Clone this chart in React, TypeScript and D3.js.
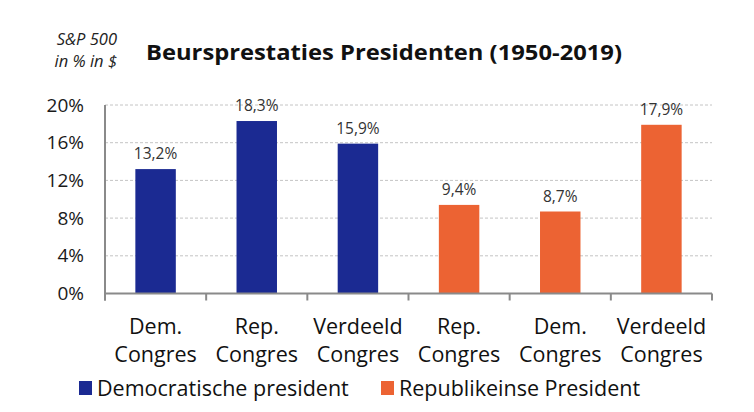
import React from "react";
import { scaleBand, scaleLinear } from "d3";

const categories = ["Dem.|Congres", "Rep.|Congres", "Verdeeld|Congres", "Rep.|Congres", "Dem.|Congres", "Verdeeld|Congres"];
const values = [13.2, 18.3, 15.9, 9.4, 8.7, 17.9];
const party = ["dem", "dem", "dem", "rep", "rep", "rep"];
const yTicks = [0, 4, 8, 12, 16, 20];
const legendItems = [
    { key: "dem", label: "Democratische president" },
    { key: "rep", label: "Republikeinse President" },
];

const colors: Record<string, string> = { dem: "#1b2a92", rep: "#ec6333" };
const font = "'Open Sans', Lato, sans-serif";

const W = 754;
const H = 412;
const margin = { left: 105, right: 42, top: 105, bottom: 119 };

export default function App() {
    const x = scaleBand<number>()
        .domain(categories.map((_, i) => i))
        .range([margin.left, W - margin.right])
        .paddingInner(0.6)
        .paddingOuter(0.3);

    const y = scaleLinear()
        .domain([0, 20])
        .range([H - margin.bottom + 0.5, margin.top]);

    const step = x.step();
    const bounds = categories.map((_, i) => margin.left + i * step).concat([W - margin.right]);
    const baseY = y(0);

    return (
        <svg
            width={W}
            height={H}
            style={{ position: "absolute", left: 0, top: 0, background: "#fff" }}
            fontFamily={font}
        >
            {/* Header */}
            <text x={117} y={45} fontSize={16.5} fontStyle="italic" textAnchor="end" fill="#222">S&amp;P 500</text>
            <text x={117} y={67} fontSize={16.5} fontStyle="italic" textAnchor="end" fill="#222">in % in $</text>
            <text x={146} y={60} fontSize={21.5} fontWeight="bold" fill="#111" textLength={476} lengthAdjust="spacingAndGlyphs">
                Beursprestaties Presidenten (1950-2019)
            </text>

            {/* Grid lines */}
            {yTicks.filter((t) => t > 0).map((t) => (
                <line
                    key={t}
                    x1={margin.left}
                    x2={W - margin.right}
                    y1={y(t)}
                    y2={y(t)}
                    stroke="#c4c4c4"
                    strokeDasharray="3,2"
                />
            ))}

            {/* Y axis labels */}
            {yTicks.map((t) => (
                <text key={t} x={84} y={y(t) + 6.5} fontSize={19} textAnchor="end" fill="#1a1a1a">
                    {t}%
                </text>
            ))}

            {/* Bars */}
            {values.map((v, i) => (
                <rect
                    key={i}
                    x={x(i)}
                    y={y(v)}
                    width={x.bandwidth()}
                    height={baseY - y(v)}
                    fill={colors[party[i]]}
                />
            ))}

            {/* Value labels */}
            {values.map((v, i) => (
                <text
                    key={i}
                    x={(x(i) ?? 0) + x.bandwidth() / 2}
                    y={y(v) - 10}
                    fontSize={15.5}
                    textAnchor="middle"
                    fill="#333"
                >
                    {v.toFixed(1).replace(".", ",")}%
                </text>
            ))}

            {/* Axes */}
            <line x1={margin.left} x2={margin.left} y1={margin.top} y2={baseY + 7} stroke="#8a8a8a" strokeWidth={2} />
            <line x1={margin.left} x2={W - margin.right} y1={baseY} y2={baseY} stroke="#8a8a8a" strokeWidth={2} />
            {bounds.map((bx, i) => (
                <line key={i} x1={bx} x2={bx} y1={baseY} y2={baseY + 7} stroke="#8a8a8a" strokeWidth={2} />
            ))}

            {/* Category labels */}
            {categories.map((c, i) => {
                const cx = (x(i) ?? 0) + x.bandwidth() / 2;
                const [l1, l2] = c.split("|");
                return (
                    <g key={i}>
                        <text x={cx} y={334} fontSize={21.5} textAnchor="middle" fill="#111">{l1}</text>
                        <text x={cx} y={362} fontSize={21.5} textAnchor="middle" fill="#111">{l2}</text>
                    </g>
                );
            })}

            {/* Legend */}
            {legendItems.map((d, i) => {
                const lx = i === 0 ? 79 : 381;
                return (
                    <g key={d.key}>
                        <rect x={lx} y={381} width={13} height={14} fill={colors[d.key]} />
                        <text x={lx + 18} y={396} fontSize={21.5} fill="#111">{d.label}</text>
                    </g>
                );
            })}
        </svg>
    );
}
